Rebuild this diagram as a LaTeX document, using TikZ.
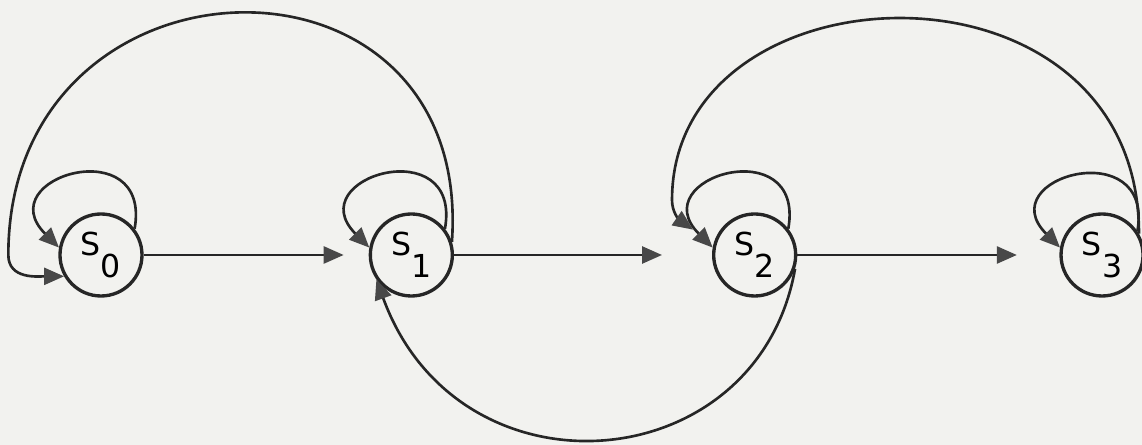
\documentclass[tikz,border=0pt]{standalone}
\usepackage{fontspec}
\usepackage{xcolor}
\usetikzlibrary{positioning, arrows.meta}
\newfontfamily\typefont{DejaVu Sans}
\definecolor{scanpaper}{RGB}{242, 242, 239}
\definecolor{scanink}{RGB}{38, 38, 38}
\definecolor{scantip}{RGB}{72, 72, 72}
\newcommand{\stname}[1]{S\raisebox{-0.7em}{#1}}

\begin{document}
\begin{tikzpicture}[font=\typefont\fontsize{18}{20}\selectfont,
    stnode/.style={circle, draw=scanink, line width=1.9pt, minimum size=16.4mm, inner sep=0pt},
    link/.style={draw=scanink, line width=1.5pt,
                 -{Triangle[length=4mm, width=3.4mm, color=scantip]}}]
  \useasboundingbox (0,0) rectangle (22.84,8.9);
  \fill[scanpaper] (0,0) rectangle (22.84,8.9);

  \node[stnode] (s0) at (2.02,3.8) {\stname{0}};
  \node[stnode, right=4.5cm of s0] (s1) {\stname{1}};
  \node[stnode, right=5.16cm of s1] (s2) {\stname{2}};
  \node[stnode, right=5.24cm of s2] (s3) {\stname{3}};

  \draw[link] (s0.38) .. controls +(80:2) and +(135:2) .. (s0.170);
  \draw[link] (s1.38) .. controls +(80:2) and +(135:2) .. (s1.170);
  \draw[link] (s2.38) .. controls +(80:2) and +(135:2) .. (s2.170);
  \draw[link] (s3.34) .. controls +(80:2) and +(135:2) .. (s3.170);

  \draw[link, shorten >=5mm] (s0) -- (s1);
  \draw[link, shorten >=10mm] (s1) -- (s2);
  \draw[link, shorten >=8.5mm] (s2) -- (s3);

  \draw[link] (s1.18) .. controls +(86:6.3) and +(90:6.3) .. ([xshift=-10mm]s0.west)
              .. controls +(-90:0.5) and +(180:0.5) .. (s0.210);
  \draw[link, shorten >=5mm] (s3.30) .. controls +(90:5.8) and +(90:4.8) .. ([xshift=-8mm, yshift=11mm]s2.west)
              .. controls +(-90:0.45) and +(145:0.45) .. (s2.165);
  \draw[link] (s2.-19) .. controls +(-100:4.3) and +(-70:4.8) .. (s1.215);
\end{tikzpicture}
\end{document}
